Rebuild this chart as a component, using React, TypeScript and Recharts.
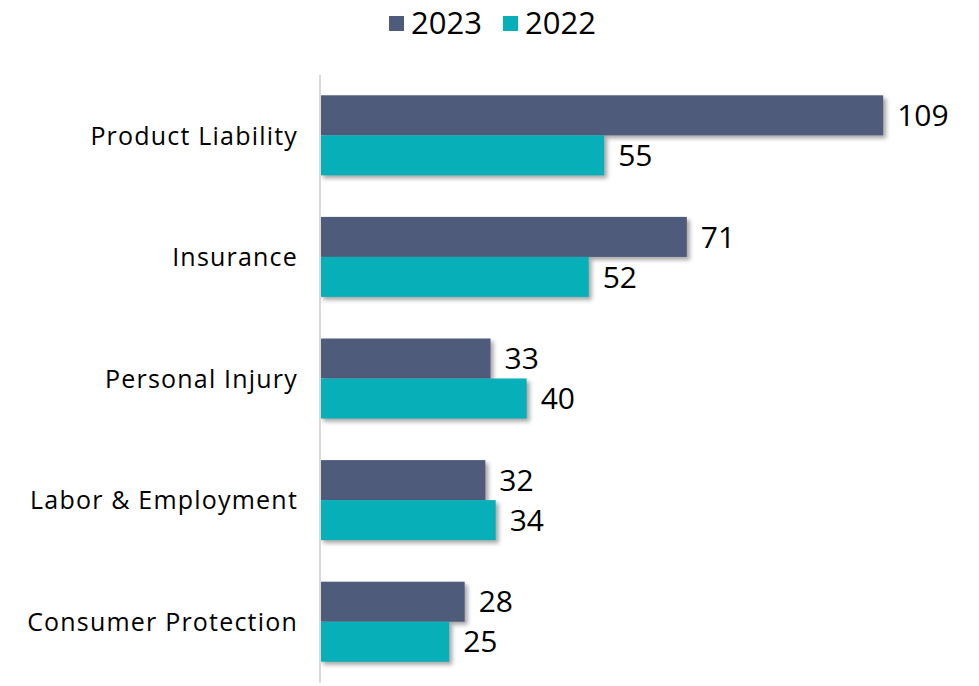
import React from "react";
import { BarChart, Bar, XAxis, YAxis, Legend, LabelList } from "recharts";

const categories = ["Product Liability", "Insurance", "Personal Injury", "Labor & Employment", "Consumer Protection"];
const values2023 = [109, 71, 33, 32, 28];
const values2022 = [55, 52, 40, 34, 25];
const seriesNames = ["2023", "2022"];
const colors = ["#4f5b7b", "#07afb8"];

const data = categories.map((c, i) => ({ name: c, y2023: values2023[i], y2022: values2022[i] }));

const FONT = "'Open Sans', sans-serif";

const ShadowRect = (props: any) => {
  const { x, y, width, height, fill } = props;
  if (width <= 0) return null;
  return (
    <rect
      x={x}
      y={y}
      width={width}
      height={height}
      fill={fill}
      style={{ filter: "drop-shadow(3px 3px 2px rgba(0,0,0,0.35))" }}
    />
  );
};

const LegendContent = () => (
  <div style={{ display: "flex", justifyContent: "center", alignItems: "center", fontFamily: FONT, fontSize: 31, color: "#000", height: 44, paddingLeft: 6 }}>
    {seriesNames.map((s, i) => (
      <div key={s} style={{ display: "flex", alignItems: "center", marginRight: i === 0 ? 21 : 0 }}>
        <div style={{ width: 15, height: 15, background: colors[i], marginRight: 7, marginTop: 2 }} />
        <span>{s}</span>
      </div>
    ))}
  </div>
);

export default function App() {
  return (
    <div style={{ position: "absolute", left: 0, top: 0, width: 979, height: 686, background: "#fff" }}>
      <BarChart
        width={979}
        height={686}
        data={data}
        layout="vertical"
        margin={{ top: 31, right: 39, bottom: 3, left: 0 }}
        barCategoryGap="16.7%"
        barGap={0}
      >
        <Legend verticalAlign="top" align="center" content={<LegendContent />} wrapperStyle={{ top: 0, left: 0, width: 979 }} />
        <XAxis type="number" domain={[0, 120]} hide />
        <YAxis
          type="category"
          dataKey="name"
          width={320}
          tickLine={false}
          axisLine={{ stroke: "#d9d9d9", strokeWidth: 2 }}
          tickMargin={16}
          tick={{ fill: "#000", fontSize: 25, fontFamily: FONT, letterSpacing: 1.2 }}
        />
        <Bar dataKey="y2023" name="2023" fill={colors[0]} shape={<ShadowRect />} isAnimationActive={false}>
          <LabelList dataKey="y2023" position="right" offset={14} fill="#000" fontSize={30} fontFamily={FONT} />
        </Bar>
        <Bar dataKey="y2022" name="2022" fill={colors[1]} shape={<ShadowRect />} isAnimationActive={false}>
          <LabelList dataKey="y2022" position="right" offset={14} fill="#000" fontSize={30} fontFamily={FONT} />
        </Bar>
      </BarChart>
    </div>
  );
}
